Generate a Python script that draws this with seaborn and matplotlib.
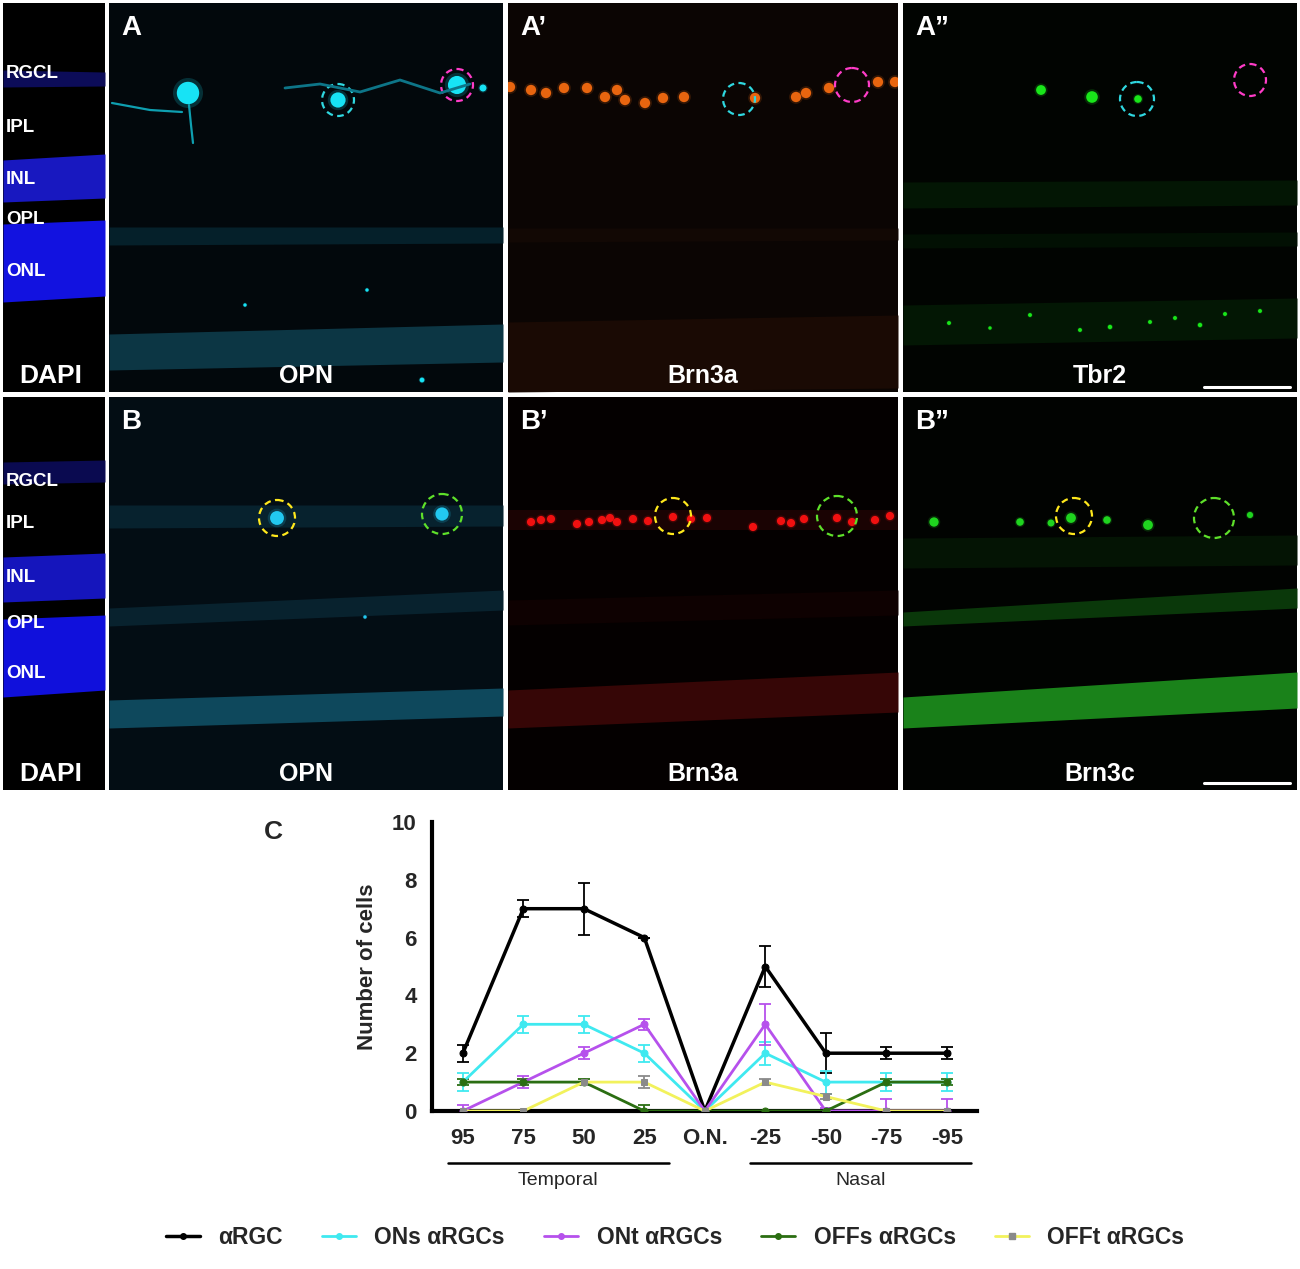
import numpy as np
import pandas as pd
import matplotlib
matplotlib.use("Agg")
import matplotlib.pyplot as plt
from matplotlib.patches import Ellipse
from matplotlib.lines import Line2D
import matplotlib.transforms as mtransforms
import seaborn as sns

sns.set_theme(style="white")
plt.rcParams["font.family"] = ["Liberation Sans", "DejaVu Sans"]

W, H = 1300, 1269

# ---------------- chart data (panel C) ----------------
positions = ["95", "75", "50", "25", "O.N.", "-25", "-50", "-75", "-95"]
series_names = ["\u03b1RGC", "ONs \u03b1RGCs", "ONt \u03b1RGCs", "OFFs \u03b1RGCs", "OFFt \u03b1RGCs"]
argc = [2, 7, 7, 6, 0, 5, 2, 2, 2]
argc_err = [0.3, 0.3, 0.9, 0.0, 0.0, 0.7, 0.7, 0.2, 0.2]
ons = [1, 3, 3, 2, 0, 2, 1, 1, 1]
ons_err = [0.3, 0.3, 0.3, 0.3, 0.0, 0.4, 0.4, 0.3, 0.3]
ont = [0, 1, 2, 3, 0, 3, 0, 0, 0]
ont_err = [0.2, 0.2, 0.2, 0.2, 0.0, 0.7, 0.1, 0.4, 0.4]
offs = [1, 1, 1, 0, 0, 0, 0, 1, 1]
offs_err = [0.1, 0.1, 0.1, 0.2, 0.0, 0.0, 0.0, 0.1, 0.1]
offt = [0, 0, 1, 1, 0, 1, 0.5, 0, 0]
offt_err = [0.0, 0.0, 0.0, 0.2, 0.0, 0.1, 0.1, 0.0, 0.0]
regions = [("Temporal", 0, 3), ("Nasal", 5, 8)]

line_colors = ["#000000", "#3fe9f0", "#b651ec", "#2b6e12", "#f2f25c"]
marker_colors = ["#000000", "#3fe9f0", "#b651ec", "#2b6e12", "#8a8a8a"]
markers = ["o", "o", "o", "o", "s"]

# ---------------- microscopy panel descriptions ----------------
col_edges = [(3, 105), (109, 503), (508, 898), (903, 1297)]
row_edges = [(3, 392), (397, 790)]
panel_bg = [["#000000", "#02080c", "#0b0503", "#010401"],
            ["#000000", "#030d14", "#040000", "#010301"]]
panel_letters = [[None, "A", "A\u2019", "A\u201d"], [None, "B", "B\u2019", "B\u201d"]]
panel_stains = [["DAPI", "OPN", "Brn3a", "Tbr2"], ["DAPI", "OPN", "Brn3a", "Brn3c"]]
layer_names = ["RGCL", "IPL", "INL", "OPL", "ONL"]
layer_y = [[73, 127, 179, 219, 272], [481, 523, 578, 624, 673]]

# bands: (top_left, top_right, bottom_left, bottom_right, color)
bands = {
    (0, 0): [(70, 72, 87, 86, "#0c0c58"), (160, 154, 202, 198, "#1818c0"), (224, 220, 302, 296, "#1212e0")],
    (0, 1): [(227, 227, 245, 243, "#05202a"), (334, 324, 370, 362, "#0c3644")],
    (0, 2): [(228, 228, 242, 240, "#120804"), (322, 315, 392, 388, "#1a0a04")],
    (0, 3): [(182, 180, 208, 205, "#031604"), (234, 232, 248, 246, "#021003"), (305, 298, 345, 338, "#031704")],
    (1, 0): [(462, 460, 484, 482, "#0a0a50"), (557, 553, 602, 598, "#1515bc"), (619, 615, 697, 690, "#1010dc")],
    (1, 1): [(505, 505, 528, 526, "#07222e"), (608, 590, 626, 610, "#08222e"), (700, 688, 728, 716, "#0e485c")],
    (1, 2): [(510, 510, 530, 530, "#1a0303"), (600, 590, 625, 615, "#0e0101"), (690, 672, 728, 712, "#360606")],
    (1, 3): [(538, 535, 568, 565, "#041404"), (612, 588, 626, 608, "#0a380a"), (697, 672, 728, 708, "#1a821a")],
}
# cells: (x list, y list, size, color)
cells = {
    (0, 1): ([188, 338, 457, 483, 367, 245, 422], [93, 100, 85, 88, 290, 305, 380], [260, 120, 170, 25, 6, 6, 12], "#17e3f5"),
    (0, 2): ([510, 531, 546, 564, 587, 605, 617, 625, 645, 663, 684, 755, 796, 806, 829, 878, 895],
             [87, 90, 93, 88, 88, 97, 90, 100, 103, 98, 97, 98, 97, 93, 88, 82, 82],
             [55] * 17, "#e8650f"),
    (0, 3): ([1041, 1092, 1138, 949, 990, 1030, 1080, 1110, 1150, 1175, 1200, 1225, 1260],
             [90, 97, 99, 323, 328, 315, 330, 327, 322, 318, 325, 314, 311],
             [50, 70, 30, 8, 6, 8, 8, 10, 8, 8, 10, 8, 8], "#19e61a"),
    (1, 1): ([277, 442, 365], [518, 514, 617], [100, 90, 6], "#22c8f0"),
    (1, 3): ([934, 1020, 1051, 1071, 1107, 1148, 1250], [522, 522, 523, 518, 520, 525, 515],
             [45, 30, 25, 50, 30, 50, 20], "#1fd41f"),
}
red_x = [531, 541, 551, 577, 589, 602, 610, 617, 633, 648, 673, 691, 707, 753, 781, 791, 804, 837, 852, 875, 890]
red_y = [522, 520, 519, 524, 522, 520, 518, 522, 519, 521, 517, 519, 518, 527, 521, 523, 519, 518, 522, 520, 516]
cells[(1, 2)] = (red_x, red_y, [35] * len(red_x), "#f01010")

# dashed circles: (x, y, radius, color)
circles = {
    (0, 1): [(338, 100, 16, "#2fd8e0"), (457, 85, 16, "#ff3cc8")],
    (0, 2): [(739, 99, 16, "#2fd8e0"), (852, 85, 17, "#ff3cc8")],
    (0, 3): [(1137, 99, 17, "#2fd8e0"), (1250, 80, 16, "#ff3cc8")],
    (1, 1): [(277, 518, 18, "#ffe81c"), (442, 514, 20, "#5ee02a")],
    (1, 2): [(673, 516, 18, "#ffe81c"), (837, 516, 20, "#5ee02a")],
    (1, 3): [(1074, 516, 18, "#ffe81c"), (1214, 518, 20, "#5ee02a")],
}
scale_bar_x = (1204, 1290)
scale_bar_y = [387, 783]

fig = plt.figure(figsize=(W / 100, H / 100), dpi=100)
fig.patch.set_facecolor("white")

for r, (y0, y1) in enumerate(row_edges):
    for c, (x0, x1) in enumerate(col_edges):
        ax = fig.add_axes([x0 / W, 1 - y1 / H, (x1 - x0) / W, (y1 - y0) / H])
        ax.set_xlim(x0, x1)
        ax.set_ylim(y1, y0)
        ax.set_facecolor(panel_bg[r][c])
        ax.set_xticks([])
        ax.set_yticks([])
        for s in ax.spines.values():
            s.set_visible(False)
        for (tl, tr, bl, br, col) in bands.get((r, c), []):
            ax.fill_between([x0, x1], [tl, tr], [bl, br], color=col, lw=0)
        if (r, c) in cells:
            cx, cy, cs, ccol = cells[(r, c)]
            ax.scatter(cx, cy, s=[v * 1.8 for v in cs], color=ccol, alpha=0.18, lw=0)
            ax.scatter(cx, cy, s=cs, color=ccol, lw=0)
        if (r, c) == (0, 1):
            ax.plot([112, 150, 182], [103, 110, 112], color="#0e9fb0", lw=1.6)
            ax.plot([189, 191, 193], [105, 125, 143], color="#0e9fb0", lw=1.6)
            ax.plot([285, 320, 360, 400, 440, 470], [88, 84, 92, 80, 93, 84], color="#0d7588", lw=2.0)
        for (ex, ey, rad, ecol) in circles.get((r, c), []):
            ax.add_patch(Ellipse((ex, ey), 2 * rad, 2 * rad, fill=False, ec=ecol, lw=1.6, ls=(0, (3, 2))))
        if c == 0:
            for nm, ly in zip(layer_names, layer_y[r]):
                ax.text(x0 + 3, ly, nm, color="white", fontsize=13.5, fontweight="bold", va="center", ha="left")
            ax.text((x0 + x1) / 2 - 3, y1 - 16, panel_stains[r][c], color="white", fontsize=19,
                    fontweight="bold", ha="center", va="center")
        else:
            ax.text(x0 + 12, y0 + 25, panel_letters[r][c], color="white", fontsize=20,
                    fontweight="bold", ha="left", va="center")
            ax.text((x0 + x1) / 2, y1 - 16, panel_stains[r][c], color="white", fontsize=18,
                    fontweight="bold", ha="center", va="center")
        if c == 3:
            ax.plot(scale_bar_x, [scale_bar_y[r]] * 2, color="white", lw=2.2)

# ---------------- panel C chart ----------------
ax = fig.add_axes([432 / W, 1 - 1111 / H, (977 - 432) / W, (1111 - 822) / H])
xs = np.arange(len(positions))
values = [argc, ons, ont, offs, offt]
errs = [argc_err, ons_err, ont_err, offs_err, offt_err]
draw_order = [4, 1, 2, 3, 0]
handles = {}
for i in draw_order:
    df = pd.DataFrame({"x": xs, "y": values[i]})
    lw = 2.5 if i == 0 else 2.0
    ax.errorbar(xs, values[i], yerr=errs[i], fmt="none", ecolor=marker_colors[i],
                elinewidth=1.3, capsize=4, capthick=1.3, zorder=2 + i * 0.1)
    sns.lineplot(data=df, x="x", y="y", ax=ax, color=line_colors[i], lw=lw, marker=markers[i],
                 markersize=5, markerfacecolor=marker_colors[i], markeredgecolor=marker_colors[i],
                 zorder=3 + i * 0.1)
    handles[i] = Line2D([], [], color=line_colors[i], lw=lw, marker=markers[i], markersize=4,
                        markerfacecolor=marker_colors[i], markeredgecolor=marker_colors[i])

ax.set_xlim(-0.51, 8.5)
ax.set_ylim(0, 10)
ax.set_yticks([0, 2, 4, 6, 8, 10])
ax.set_xticks(xs)
ax.set_xticklabels(positions)
ax.set_xlabel("")
ax.set_ylabel("Number of cells", fontsize=16, fontweight="bold", labelpad=10)
for s in ["top", "right"]:
    ax.spines[s].set_visible(False)
for s in ["left", "bottom"]:
    ax.spines[s].set_linewidth(3)
    ax.spines[s].set_color("black")
ax.tick_params(axis="both", which="major", direction="out", width=3, length=7, color="black",
               labelsize=16, pad=4)
ax.tick_params(axis="x", length=8)
for lab in ax.get_xticklabels() + ax.get_yticklabels():
    lab.set_fontweight("bold")
ax.set_facecolor("white")
ax.patch.set_alpha(0)

trans = mtransforms.blended_transform_factory(ax.transData, ax.transAxes)
for name, a, b in regions:
    ax.plot([a - 0.25, b + 0.4], [-0.18, -0.18], transform=trans, color="black", lw=1.8, clip_on=False)
    ax.text((a - 0.25 + b + 0.4) / 2, -0.24, name, transform=trans, ha="center", va="center", fontsize=14)

fig.text(273 / W, 1 - 832 / H, "C", fontsize=19, fontweight="bold", ha="center", va="center")

leg = fig.legend([handles[i] for i in range(5)], series_names, loc="center", ncol=5,
                 bbox_to_anchor=(675 / W, 1 - 1238 / H), frameon=False, handlelength=1.5,
                 columnspacing=1.7, handletextpad=0.8, prop={"size": 16.5, "weight": "bold"})

fig.savefig("out.png", dpi=100, facecolor="white")
